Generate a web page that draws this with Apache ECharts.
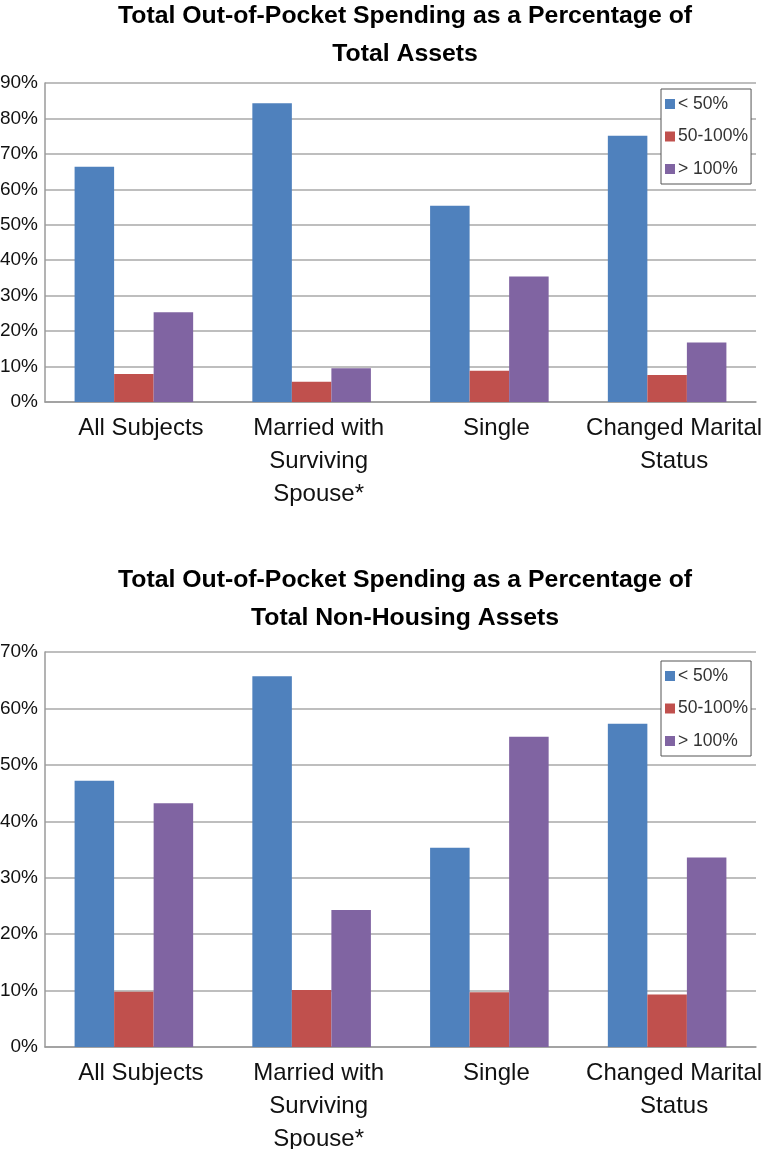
<!DOCTYPE html>
<html>
<head>
<meta charset="utf-8">
<script src="https://cdn.jsdelivr.net/npm/echarts@6/dist/echarts.min.js"></script>
<style>
html,body{margin:0;padding:0;background:#fff;}
#c{width:776px;height:1149px;}
</style>
</head>
<body>
<div id="c"></div>
<script>
const categories = ['All Subjects', 'Married with\nSurviving\nSpouse*', 'Single', 'Changed Marital\nStatus'];
const seriesNames = ['< 50%', '50-100%', '> 100%'];
const colors = ['#4f81bd', '#c0504d', '#8064a2'];

// Chart 1: Total Assets
const assetsLt50 = [66.4, 84.3, 55.4, 75.1];
const assets50to100 = [7.9, 5.7, 8.8, 7.6];
const assetsGt100 = [25.3, 9.5, 35.4, 16.8];

// Chart 2: Non-housing assets
const nonHousingLt50 = [47.2, 65.7, 35.3, 57.3];
const nonHousing50to100 = [9.8, 10.1, 9.7, 9.3];
const nonHousingGt100 = [43.2, 24.3, 55.0, 33.6];

const title1 = ['Total Out-of-Pocket Spending as a Percentage of', 'Total Assets'];
const title2 = ['Total Out-of-Pocket Spending as a Percentage of', 'Total Non-Housing Assets'];

const FONT = '"Liberation Sans", Arial, Helvetica, sans-serif';
const chart = echarts.init(document.getElementById('c'), null, {renderer: 'canvas'});

function xAxis(gridIndex) {
  return {
    type: 'category', gridIndex, data: categories,
    axisTick: {show: false},
    axisLine: {lineStyle: {color: '#9a9a9a', width: 1.5}},
    axisLabel: {interval: 0, margin: 10, fontSize: 24, lineHeight: 33, color: '#111', fontFamily: FONT, padding: [0, 0, 0, 14]}
  };
}
function yAxis(gridIndex, max) {
  return {
    type: 'value', gridIndex, min: 0, max, interval: 10,
    axisLine: {show: true, lineStyle: {color: '#9a9a9a', width: 1.5}},
    axisTick: {show: false},
    splitLine: {lineStyle: {color: '#a8a8a8', width: 1.5}},
    axisLabel: {formatter: '{value}%', margin: 7, fontSize: 19, color: '#111', fontFamily: FONT}
  };
}
function bars(idx, data) {
  return data.map((d, i) => ({
    name: seriesNames[i], type: 'bar', xAxisIndex: idx, yAxisIndex: idx,
    data: d, barGap: '0%', barCategoryGap: '33.3%',
    itemStyle: {color: colors[i]}, emphasis: {disabled: true}
  }));
}
function legend(top) {
  return {
    data: seriesNames, orient: 'vertical', left: 661, top,
    itemWidth: 10, itemHeight: 10, icon: 'rect', itemGap: 12.5,
    padding: [5, 3, 5, 4], borderColor: '#555', borderWidth: 1, backgroundColor: '#fff',
    textStyle: {fontSize: 17.5, lineHeight: 20, color: '#333', fontFamily: FONT, padding: [0, 0, 0, -2]}
  };
}
function titleText(lines, y0) {
  return lines.map((t, i) => ({
    type: 'text', x: 405, y: y0 + i * 38,
    style: {text: t, fill: '#000', font: 'bold 24.8px ' + FONT, textAlign: 'center', textVerticalAlign: 'middle', align: 'center', verticalAlign: 'middle'}
  }));
}

chart.setOption({
  animation: false,
  backgroundColor: '#fff',
  color: colors,
  grid: [
    {left: 45, right: 20, top: 83, height: 319, containLabel: false, outerBoundsMode: 'none'},
    {left: 45, right: 20, top: 652, height: 395, containLabel: false, outerBoundsMode: 'none'}
  ],
  xAxis: [xAxis(0), xAxis(1)],
  yAxis: [yAxis(0, 90), yAxis(1, 70)],
  legend: [legend(89), legend(661)],
  graphic: [...titleText(title1, 16), ...titleText(title2, 580)],
  series: [
    ...bars(0, [assetsLt50, assets50to100, assetsGt100]),
    ...bars(1, [nonHousingLt50, nonHousing50to100, nonHousingGt100])
  ]
});
</script>
</body>
</html>
